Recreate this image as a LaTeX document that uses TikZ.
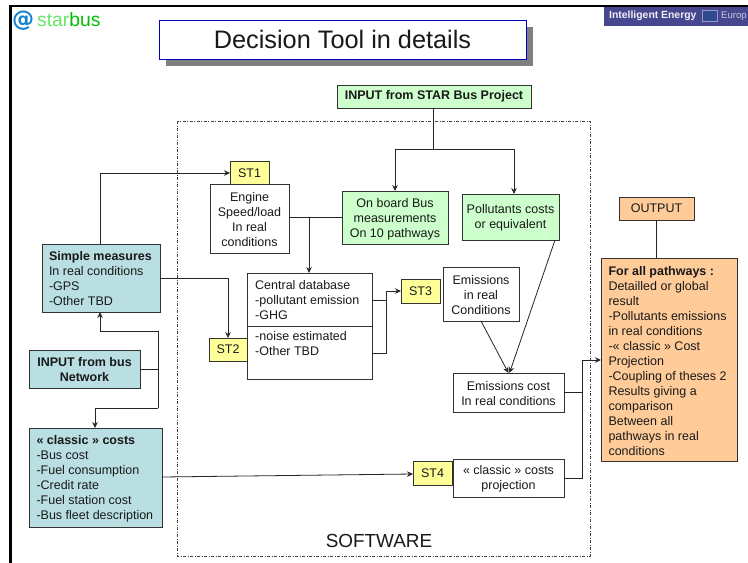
\documentclass[tikz,border=0pt]{standalone}
\usepackage{fontspec}
\setmainfont{Liberation Sans}
\newfontfamily\logofont{DejaVu Sans}
\usetikzlibrary{arrows.meta,calc}
\definecolor{tealfill}{HTML}{B9DFE3}
\definecolor{greenfill}{HTML}{CCFFCC}
\definecolor{yelfill}{HTML}{FFFF99}
\definecolor{orgfill}{HTML}{FFCC99}
\definecolor{banner}{HTML}{47478F}
\definecolor{flagblue}{HTML}{2F4A8F}
\definecolor{edgegray}{HTML}{333333}
\newcommand{\fs}{\fontsize{12.5}{15}\selectfont}
\tikzset{
 x=1pt,y=-1pt,
 every node/.style={font=\fs,text=black!90},
 base/.style={draw=edgegray,line width=1pt,inner sep=0pt,outer sep=0pt,align=center,anchor=center},
 whitebox/.style={base,fill=white},
 tealbox/.style={base,fill=tealfill},
 greenbox/.style={base,fill=greenfill},
 yelbox/.style={base,fill=yelfill},
 orgbox/.style={base,fill=orgfill},
 conn/.style={draw=black!85,line width=0.8pt},
 arr/.style={conn,-{Stealth[length=6pt,width=5.5pt]}},
}
% name, x0,y0,x1,y1, style, text-shift, text
\newcommand{\bx}[8]{\node[#6,minimum width={(#4-#2)*1pt},minimum height={(#5-#3)*1pt}] (#1) at ({(#2+#4)/2},{(#3+#5)/2}) {};
 \node[inner sep=0pt,align=center,yshift=-#7pt] (#1t) at (#1.center) {#8};}
\newcommand{\lft}[2]{\begin{minipage}{#1pt}\raggedright #2\end{minipage}}
\begin{document}
\begin{tikzpicture}
\useasboundingbox (0,0) rectangle (748,563);
\fill[white] (0,0) rectangle (748,563);
% slide frame
\draw[line width=2.4pt,black] (748,6) -- (10.5,6) -- (10.5,563);
% banner
\fill[banner] (604,7) rectangle (748,26);
\node[anchor=west,font=\bfseries\fontsize{10.4}{12}\selectfont,text=white!92!banner,inner sep=0pt] (ie) at (609,16) {Intelligent Energy};
\node[draw=white!45!banner,fill=flagblue,line width=0.8pt,minimum width=15.5pt,minimum height=11.5pt,inner sep=0pt] (flag) at (710,16) {};
\node[anchor=west,font=\fontsize{9.6}{12}\selectfont,text=white!70!banner,inner sep=0pt] (eu) at (721,16) {Europ};
% logo
\node[anchor=west,inner sep=0pt,font=\logofont\bfseries\fontsize{22}{24}\selectfont,text=cyan!65!blue] (at) at (12,21) {@};
\node[anchor=west,inner sep=0pt,font=\fontsize{19.3}{19}\selectfont] (sb) at (37,20) {\textcolor{green!55!white!90!black}{star}\textcolor{green!75!black}{bus}};
% title
\fill[black!50] (166,27) rectangle (533,66);
\bx{title}{159}{20}{526}{59}{base,draw=blue!75!black,fill=white}{0}{\fontsize{25.3}{28}\selectfont Decision Tool in details}
% software frame
\draw[black!75,line width=0.9pt,dash pattern=on 3pt off 1.5pt on 1pt off 1.5pt] (177,121) rectangle (590,556);
\node[font=\fontsize{18.9}{20}\selectfont] (sw) at (379,541) {SOFTWARE};
% boxes
\bx{star}{337}{85}{531}{108}{greenbox}{0}{\bfseries INPUT from STAR Bus Project}
\bx{st1}{230}{161}{269}{185}{yelbox}{0}{ST1}
\bx{eng}{210}{184}{289}{253}{whitebox}{1}{Engine\\Speed/load\\In real\\conditions}
\bx{onb}{342}{191}{448}{244}{greenbox}{1.5}{On board Bus\\measurements\\On 10 pathways}
\bx{pol}{462}{194}{559}{240}{greenbox}{1}{Pollutants costs\\or equivalent}
\bx{cdb}{247}{273}{372}{379}{whitebox}{0}{}
\node[anchor=north west,inner sep=0pt,align=left] (cdbt) at (255,280.5) {Central database\\-pollutant emission\\-GHG};
\node[anchor=north west,inner sep=0pt,align=left] (cdbb) at (255,331.5) {-noise estimated\\-Other TBD};
\draw[edgegray,line width=1pt] (cdb.west |- 0,326) coordinate (dl) -- (cdb.east |- dl) coordinate (dr);
\bx{st2}{209}{338}{247}{361}{yelbox}{0}{ST2}
\bx{st3}{401}{279}{440}{303}{yelbox}{0}{ST3}
\bx{emi}{443}{267}{519}{321}{whitebox}{1}{Emissions\\in real\\Conditions}
\bx{ecs}{453}{373}{564}{412}{whitebox}{0.7}{Emissions cost\\In real conditions}
\bx{st4}{413}{461}{452}{485}{yelbox}{0}{ST4}
\bx{cpr}{453}{459}{564}{497}{whitebox}{0.7}{« classic » costs\\projection}
\bx{out}{619}{197}{694}{220}{orgbox}{0}{OUTPUT}
\bx{res}{601}{258}{737}{461}{orgbox}{2}{\lft{121}{\textbf{For all pathways :}\\Detailled or global\\result\\-Pollutants emissions\\in real conditions\\-« classic » Cost\\Projection\\-Coupling of theses 2\\Results giving a\\comparison\\Between all\\pathways in real\\conditions}}
\bx{sim}{42}{244}{160}{312}{tealbox}{0.7}{\lft{104}{\textbf{Simple measures}\\In real conditions\\-GPS\\-Other TBD}}
\bx{bus}{29}{350}{140}{388}{tealbox}{0.7}{\bfseries INPUT from bus\\\bfseries Network}
\bx{cla}{29}{428}{162}{527}{tealbox}{1.5}{\lft{118}{\textbf{« classic » costs}\\-Bus cost\\-Fuel consumption\\-Credit rate\\-Fuel station cost\\-Bus fleet description}}
% junctions
\coordinate (jsim) at (100,173);
\coordinate (js2) at (228,278);
\coordinate (jb) at (158,369);
\coordinate (jbu) at (158,331);
\coordinate (jbd) at (158,408);
\coordinate (jdb) at (309,217);
\coordinate (jst) at (433,149);
\coordinate (j3) at (386,291);
\coordinate (jr) at (582,360);
\coordinate (jon) at (395,149);
\coordinate (jpo) at (514,149);
% connectors
\draw[arr] (jsim |- sim.north) -- (jsim) -- (st1.west |- jsim);
\draw[arr] (sim.east |- js2) -- (js2) -- (js2 |- st2.north);
\draw[conn] (bus.east |- jb) -- (jb);
\draw[conn] (jbu) -- (jbd);
\draw[arr] (jbu) -- (100,331) -- (100,312);
\draw[arr] (jbd) -- (95,408) -- (95,428);
\draw[conn] (eng.east |- jdb) -- (jdb);
\draw[conn] (onb.west |- jdb) -- (jdb);
\draw[arr] (jdb) -- (jdb |- cdb.north);
\draw[conn] (jst |- star.south) -- (jst);
\draw[arr] (jon) -- (jon |- onb.north);
\draw[arr] (jpo) -- (jpo |- pol.north);
\draw[conn] (jon) -- (jpo);
\draw[conn] (cdb.east |- 0,300) -- (386,300);
\draw[conn] (cdb.east |- 0,353) -- (386,353) -- (j3);
\draw[arr] (j3) -- (st3.west |- j3);
\draw[arr] (481,321) -- (508.5,373);
\draw[arr] (555,240) -- (509.5,373);
\draw[conn] (ecs.east |- 0,392) -- (582,392);
\draw[conn] (cpr.east |- 0,478) -- (582,478) -- (jr);
\draw[arr] (jr) -- (res.west |- jr);
\draw[arr] (cla.east |- 0,477) -- (st4.west |- 0,474);
\draw[conn] (out.south) -- (out.south |- res.north);
\end{tikzpicture}
\end{document}
